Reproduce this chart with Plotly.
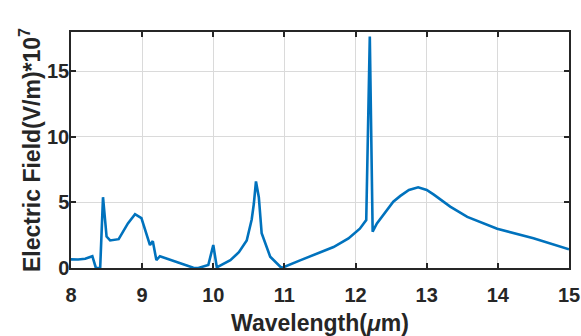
import plotly.graph_objects as go

wavelength = [8.0, 8.1, 8.2, 8.3, 8.35, 8.41, 8.45, 8.50, 8.55, 8.67, 8.80, 8.90, 8.99,
              9.09, 9.11, 9.15, 9.20, 9.25, 9.50, 9.72, 9.79, 9.93, 10.0, 10.05, 10.24,
              10.36, 10.47, 10.54, 10.57, 10.60, 10.64, 10.68, 10.80, 10.96, 11.22, 11.69,
              11.90, 12.06, 12.15, 12.20, 12.24, 12.30, 12.53, 12.63, 12.75, 12.88, 13.0,
              13.10, 13.33, 13.57, 13.99, 14.50, 15.0]
efield = [0.66, 0.65, 0.70, 0.90, 0.0, 0.0, 5.4, 2.4, 2.1, 2.2, 3.4, 4.1, 3.8,
          2.1, 1.75, 2.05, 0.6, 0.9, 0.45, 0.02, 0.0, 0.23, 1.75, 0.05, 0.6,
          1.2, 2.1, 3.7, 4.9, 6.6, 5.4, 2.65, 0.86, 0.0, 0.58, 1.6,
          2.25, 3.0, 3.66, 17.65, 2.77, 3.4, 5.06, 5.5, 5.95, 6.15, 5.95,
          5.6, 4.68, 3.9, 3.0, 2.27, 1.43]

x_ticks = [8, 9, 10, 11, 12, 13, 14, 15]
y_ticks = [0, 5, 10, 15]

tick_font = dict(family="Liberation Sans, Arial, sans-serif", size=20, color="#262626", weight="bold")
title_font = dict(family="Liberation Sans, Arial, sans-serif", size=23, color="#262626", weight="bold")

fig = go.Figure()
fig.add_trace(go.Scatter(x=wavelength, y=efield, mode="lines",
                         line=dict(color="#0072BD", width=2.6)))

axis_common = dict(showline=True, linecolor="#262626", linewidth=1.5, mirror="ticks",
                   ticks="inside", ticklen=5, tickwidth=1.5, tickcolor="#262626",
                   showgrid=True, gridcolor="#dadada", gridwidth=1, zeroline=False,
                   tickfont=tick_font, automargin=False)

fig.update_layout(
    width=581, height=336,
    margin=dict(l=71, r=12, t=32, b=68),
    paper_bgcolor="white", plot_bgcolor="white",
    showlegend=False,
    font=tick_font,
    xaxis=dict(range=[8, 15], tickvals=x_ticks, ticktext=[str(v) for v in x_ticks],
               ticklabelstandoff=8,
               title=dict(text="Wavelength(<i>μ</i>m)", font=title_font, standoff=11),
               **axis_common),
    yaxis=dict(range=[0, 18], tickvals=y_ticks, ticktext=[str(v) for v in y_ticks],
               ticklabelstandoff=-4,
               title=dict(text="Electric Field(V/m)*10<sup>7</sup>", font=title_font, standoff=0),
               **axis_common),
)

# remove the default page margin so the figure sits at the window's top-left corner
fig.write_html("out.html",
               config={"displayModeBar": False},
               post_script="document.body.style.margin='0';document.body.style.overflow='hidden';")
